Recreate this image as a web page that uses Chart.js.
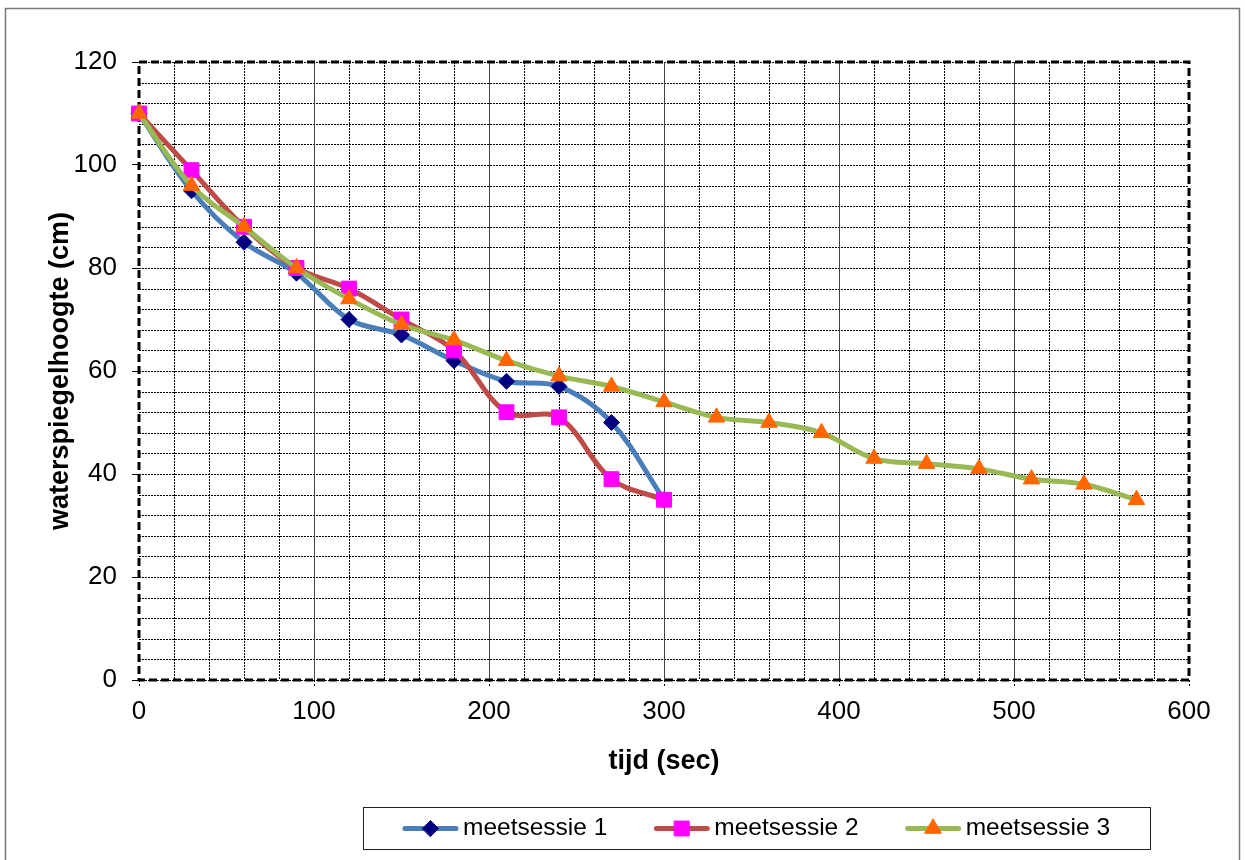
<!DOCTYPE html>
<html>
<head>
<meta charset="utf-8">
<title>waterspiegelhoogte</title>
<script src="https://cdn.jsdelivr.net/npm/chart.js@4.4.1/dist/chart.umd.min.js"></script>
<style>
  html, body { margin:0; padding:0; background:#fff; }
  #wrap { width:1245px; height:860px; position:relative; }
</style>
</head>
<body>
<div id="wrap"><canvas id="chart"></canvas></div>
<script>
'use strict';

/* ─── Data ─────────────────────────────────────────────────────── */
const seriesNames = ['meetsessie 1', 'meetsessie 2', 'meetsessie 3'];
const tijd12      = [0, 30, 60, 90, 120, 150, 180, 210, 240, 270, 300];
const tijd3       = [0, 30, 60, 90, 120, 150, 180, 210, 240, 270, 300, 330, 360, 390, 420, 450, 480, 510, 540, 570];
const sessie1     = [110, 95, 85, 79, 70, 67, 62, 58, 57, 50, 35];
const sessie2     = [110, 99, 88, 80, 76, 70, 64, 52, 51, 39, 35];
const sessie3     = [110, 96, 88, 80, 74, 69, 66, 62, 59, 57, 54, 51, 50, 48, 43, 42, 41, 39, 38, 35];
const xTitle      = 'tijd (sec)';
const yTitle      = 'waterspiegelhoogte (cm)';

const FONT = '"Liberation Sans", Arial, sans-serif';

const pts = (xs, ys) => xs.map((x, i) => ({ x, y: ys[i] }));

/* ─── Plot area: dotted grid, solid 100-lines, dashed frame ────── */
const paperGrid = {
  id: 'paperGrid',
  beforeDatasetsDraw(chart) {
    const { ctx, chartArea: a, scales: { x, y } } = chart;
    ctx.save();
    ctx.lineWidth = 1;
    ctx.strokeStyle = '#000';
    ctx.setLineDash([2, 1]);
    y.ticks.forEach(t => {
      const py = Math.round(y.getPixelForValue(t.value)) + 0.5;
      ctx.beginPath(); ctx.moveTo(a.left, py); ctx.lineTo(a.right, py); ctx.stroke();
    });
    x.ticks.forEach(t => {
      if (t.value % 100 === 0) return;
      const px = Math.round(x.getPixelForValue(t.value)) + 0.5;
      ctx.beginPath(); ctx.moveTo(px, a.top); ctx.lineTo(px, a.bottom); ctx.stroke();
    });
    ctx.setLineDash([]);
    ctx.strokeStyle = '#444';
    x.ticks.forEach(t => {
      if (t.value % 100 !== 0 || t.value === x.min || t.value === x.max) return;
      const px = Math.round(x.getPixelForValue(t.value)) + 0.5;
      ctx.beginPath(); ctx.moveTo(px, a.top); ctx.lineTo(px, a.bottom); ctx.stroke();
    });
    /* heavy dashed frame */
    ctx.strokeStyle = '#000';
    ctx.lineWidth = 3;
    ctx.setLineDash([8, 4]);
    ctx.strokeRect(a.left, a.top, a.right - a.left, a.bottom - a.top);
    ctx.restore();
  }
};

/* ─── Legend box + outer chart border ─────────────────────────── */
const boxLegend = {
  id: 'boxLegend',
  afterDraw(chart) {
    const ctx = chart.ctx;
    ctx.save();
    ctx.strokeStyle = '#777';
    ctx.lineWidth = 1.5;
    ctx.strokeRect(5.5, 8.5, 1234, 900);

    const box = { left: 363, top: 807, width: 787, height: 42 };
    ctx.strokeStyle = '#222';
    ctx.lineWidth = 1;
    ctx.strokeRect(box.left + 0.5, box.top + 0.5, box.width, box.height);

    ctx.font = '24.5px ' + FONT;
    ctx.textBaseline = 'middle';
    ctx.fillStyle = '#000';
    const segW = 55, gap = 47;
    const widths = seriesNames.map(n => segW + 5 + ctx.measureText(n).width);
    const total = widths.reduce((s, w) => s + w, 0) + gap * (widths.length - 1);
    let x = box.left + (box.width - total) / 2;
    const cy = box.top + box.height / 2 + 0.5;
    chart.data.datasets.forEach((ds, i) => {
      ctx.strokeStyle = ds.borderColor;
      ctx.lineWidth = ds.borderWidth;
      ctx.lineCap = 'round';
      ctx.beginPath(); ctx.moveTo(x + 2, cy); ctx.lineTo(x + segW - 2, cy); ctx.stroke();
      ctx.fillStyle = ds.pointBackgroundColor;
      ctx.strokeStyle = ds.pointBorderColor;
      ctx.lineWidth = 1;
      Chart.helpers.drawPoint(ctx, { pointStyle: ds.pointStyle, radius: ds.pointRadius, rotation: 0, borderWidth: 1 }, x + segW / 2, cy);
      ctx.fillStyle = '#000';
      ctx.fillText(seriesNames[i], x + segW + 5, cy);
      x += widths[i] + gap;
    });
    ctx.restore();
  }
};

/* ─── Chart ───────────────────────────────────────────────────── */
function lineSet(i, data, line, mark, style, radius, order) {
  return {
    label               : seriesNames[i],
    data,
    borderColor         : line,
    borderWidth         : 5,
    tension             : 0.35,
    clip                : false,
    pointStyle          : style,
    pointRadius         : radius,
    pointHoverRadius    : radius,
    pointBackgroundColor: mark,
    pointBorderColor    : mark,
    pointBorderWidth    : 1,
    order,
  };
}

new Chart(document.getElementById('chart'), {
  type: 'line',
  data: {
    datasets: [
      lineSet(0, pts(tijd12, sessie1), '#4A7EBB', '#000080', 'rectRot', 8, 3),
      lineSet(1, pts(tijd12, sessie2), '#BE4B48', '#FF00FF', 'rect', 10.5, 2),
      lineSet(2, pts(tijd3, sessie3),  '#98B954', '#FF6600', 'triangle', 9.5, 1),
    ]
  },
  options: {
    responsive: true,
    maintainAspectRatio: false,
    animation: false,
    layout: { padding: { left: 0, top: 62, right: 56, bottom: 80 } },
    plugins: { legend: { display: false }, tooltip: { enabled: false } },
    scales: {
      x: {
        type: 'linear', min: 0, max: 600,
        afterFit: s => { s.height = 100; },
        ticks: {
          stepSize: 20, autoSkip: false, maxRotation: 0, padding: 10,
          color: '#000', font: { family: FONT, size: 26 },
          callback: v => v % 100 === 0 ? String(v) : ''
        },
        grid: {
          drawOnChartArea: false, drawTicks: true, tickLength: 6,
          tickBorderDash: [2, 2],
          tickColor: c => c.tick && c.tick.value % 100 === 0 ? '#000' : 'rgba(0,0,0,0)'
        },
        border: { display: false },
        title: {
          display: true, text: xTitle, color: '#000',
          font: { family: FONT, size: 27, weight: 'bold' },
          padding: { top: 0, bottom: 2 }
        }
      },
      y: {
        type: 'linear', min: 0, max: 120,
        afterFit: s => { s.width = 139; },
        ticks: {
          stepSize: 4, autoSkip: false, padding: 15,
          color: '#000', font: { family: FONT, size: 26 },
          callback: v => v % 20 === 0 ? String(v) : ''
        },
        grid: {
          drawOnChartArea: false, drawTicks: true, tickLength: 7,
          tickColor: c => c.tick && c.tick.value % 20 === 0 ? '#000' : 'rgba(0,0,0,0)'
        },
        border: { display: false },
        title: {
          display: true, text: yTitle, color: '#000',
          font: { family: FONT, size: 27, weight: 'bold' },
          padding: { top: 44, bottom: 0 }
        }
      }
    }
  },
  plugins: [paperGrid, boxLegend]
});
</script>
</body>
</html>
